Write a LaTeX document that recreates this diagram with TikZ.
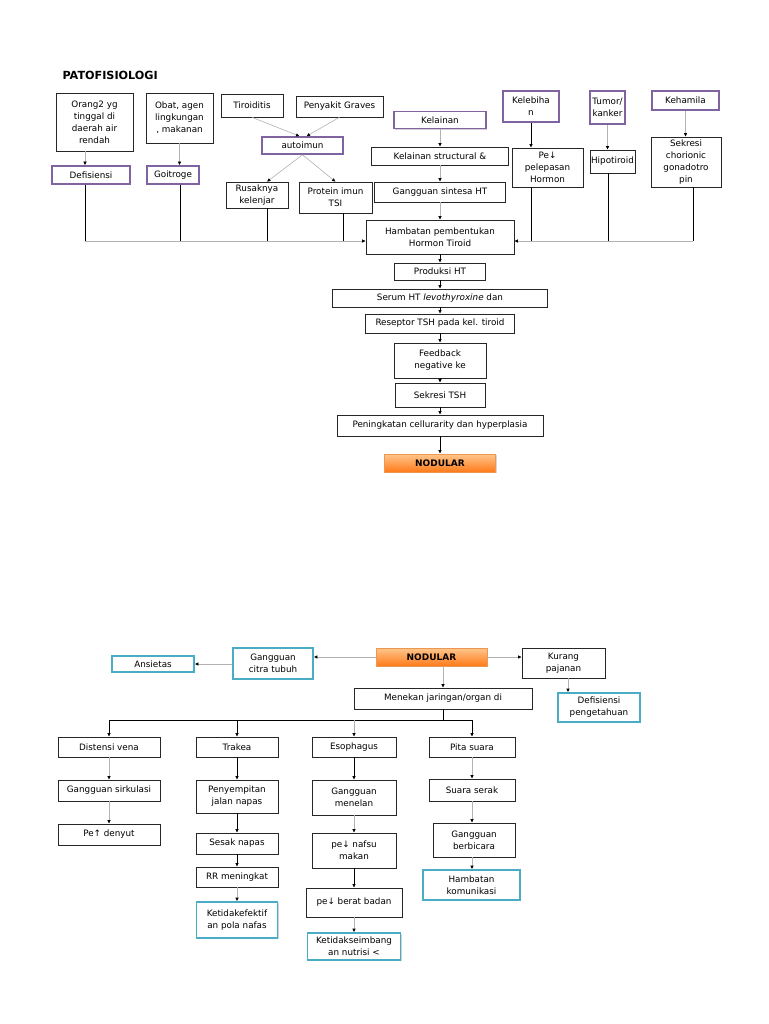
\documentclass[tikz,border=0pt]{standalone}
\usepackage{fontspec}
\setmainfont{DejaVu Sans}
\usetikzlibrary{arrows.meta,shadows}

\definecolor{ungu}{HTML}{8064A2}
\definecolor{tosca}{HTML}{4BACC6}
\definecolor{oranyetua}{HTML}{E46C0A}

\tikzset{
  kotak/.style={draw=black!85, line width=0.6pt, fill=white, align=center, inner sep=1pt},
  ungubox/.style={kotak, draw=ungu, line width=1.6pt, drop shadow={shadow xshift=1.2pt, shadow yshift=-1.2pt, fill=black!35}},
  toscabox/.style={kotak, draw=tosca, line width=1.6pt, drop shadow={shadow xshift=1.2pt, shadow yshift=-1.2pt, fill=black!35}},
  nodbox/.style={kotak, draw=oranyetua!70, top color=orange!45, bottom color=orange!85!red!90, font=\bfseries\fontsize{9}{10}\selectfont, drop shadow={shadow xshift=1pt, shadow yshift=-1pt, fill=black!30}},
  panah/.style={draw=black, line width=0.6pt, -{Latex[length=3.5pt,width=3.5pt]}},
  panahabu/.style={draw=black!30, line width=0.6pt, -{Latex[length=3.5pt,width=3.5pt,color=black]}},
  garis/.style={draw=black, line width=0.6pt},
  garisabu/.style={draw=black!25, line width=0.8pt}
}

\begin{document}
\begin{tikzpicture}[x=1pt, y=-1pt, font=\fontsize{8.8}{12}\selectfont]

\useasboundingbox (0,0) rectangle (768,1024);
\fill[white] (0,0) rectangle (768,1024);

%% ---------------- atas ----------------
\node[anchor=west, font=\bfseries\fontsize{11.2}{12}\selectfont] (judul) at (59,75) {PATOFISIOLOGI};

\node[kotak, minimum width=77pt, minimum height=58pt] (orang) at (94.5,122) {Orang2 yg\\tinggal di\\daerah air\\rendah};
\node[ungubox, minimum width=78pt, minimum height=18pt] (defisiensi) at (91,175) {Defisiensi};

\node[kotak, minimum width=67pt, minimum height=50pt] (obat) at (179.5,118) {Obat, agen\\lingkungan\\, makanan};
\node[ungubox, minimum width=52pt, minimum height=18pt] (goitroge) at (173,175) {Goitroge};

\node[kotak, minimum width=62pt, minimum height=23pt] (tiroiditis) at (252,105.5) {Tiroiditis};
\node[kotak, minimum width=87pt, minimum height=21pt] (graves) at (339.5,106.5) {Penyakit Graves};
\node[ungubox, minimum width=81pt, minimum height=17pt] (autoimun) at (302.5,145.5) {autoimun};
\node[kotak, minimum width=62pt, minimum height=26pt] (rusak) at (257,195) {Rusaknya\\kelenjar};
\node[kotak, minimum width=73pt, minimum height=31pt] (protein) at (335.5,197.5) {Protein imun\\TSI};

\node[ungubox, minimum width=92pt, minimum height=17pt] (kelainan) at (440,120) {Kelainan};
\node[kotak, minimum width=137pt, minimum height=18pt] (struktur) at (440,156) {Kelainan structural \&};
\node[kotak, minimum width=131pt, minimum height=20pt] (sintesa) at (440,192) {Gangguan sintesa HT};
\node[kotak, minimum width=148pt, minimum height=34pt] (hambatan) at (440,237) {Hambatan pembentukan\\Hormon Tiroid};

\node[ungubox, minimum width=56pt, minimum height=31pt] (kelebihan) at (531,106.5) {Kelebiha\\n};
\node[kotak, minimum width=71pt, minimum height=39pt] (pelepasan) at (547.5,167.5) {Pe↓\\pelepasan\\Hormon};
\node[ungubox, minimum width=35pt, minimum height=33pt] (tumor) at (607.5,107.5) {Tumor/\\kanker};
\node[kotak, minimum width=45pt, minimum height=23pt] (hipotiroid) at (612.5,161.5) {Hipotiroid};
\node[ungubox, minimum width=67pt, minimum height=19pt] (kehamilan) at (685.5,100.5) {Kehamila};
\node[kotak, minimum width=70pt, minimum height=50pt] (sekresi) at (686,162) {Sekresi\\chorionic\\gonadotro\\pin};

\node[kotak, minimum width=91pt, minimum height=17pt] (produksi) at (440,271.5) {Produksi HT};
\node[kotak, minimum width=215pt, minimum height=18pt] (serum) at (440,298) {Serum HT \textit{levothyroxine} dan};
\node[kotak, minimum width=149pt, minimum height=19pt] (reseptor) at (440,323.5) {Reseptor TSH pada kel. tiroid};
\node[kotak, minimum width=92pt, minimum height=35pt] (feedback) at (440,360.5) {Feedback\\negative ke};
\node[kotak, minimum width=90pt, minimum height=24pt] (tsh) at (440,395) {Sekresi TSH};
\node[kotak, minimum width=206pt, minimum height=21pt] (peningkatan) at (440,425.5) {Peningkatan cellurarity dan hyperplasia};
\node[nodbox, minimum width=111pt, minimum height=18pt] (nodular) at (440,463) {NODULAR};

% masuk ke hambatan
\draw[panahabu] (orang.south -| 85,0) -- (defisiensi.north -| 85,0);
\draw[panahabu] (obat.south) -- (obat.south |- goitroge.north);
\draw[garis] (defisiensi.south -| 85,0) -- (85,241);
\draw[garis] (goitroge.south -| 180,0) -- (180,241);
\draw[garis] (rusak.south -| 267,0) -- (267,241);
\draw[garis] (protein.south -| 343,0) -- (343,241);
\draw[panahabu] (85,241) -- (hambatan.west |- 0,241);

\draw[panahabu] (tiroiditis.south) -- ([xshift=-3pt]autoimun.north);
\draw[panahabu] (graves.south) -- ([xshift=4pt]autoimun.north);
\draw[panahabu] (autoimun.south) -- (rusak.north -| 267,0);
\draw[panahabu] (autoimun.south) -- (protein.north);

\draw[panahabu] (kelainan) -- (struktur);
\draw[panahabu] (struktur) -- (sintesa);
\draw[panahabu] (sintesa) -- (hambatan);

\draw[panah] (kelebihan.south) -- (kelebihan.south |- pelepasan.north);
\draw[panahabu] (tumor.south) -- (tumor.south |- hipotiroid.north);
\draw[panahabu] (kehamilan.south) -- (kehamilan.south |- sekresi.north);
\draw[garis] (kelebihan.south |- pelepasan.south) -- (kelebihan.south |- 0,241);
\draw[garis] (hipotiroid.south -| 608,0) -- (608,241);
\draw[garis] (sekresi.south -| 693,0) -- (693,241);
\draw[panahabu] (693,241) -- (hambatan.east |- 0,241);

% rantai tengah
\draw[panah] (hambatan) -- (produksi);
\draw[panah] (produksi) -- (serum);
\draw[panah] (serum) -- (reseptor);
\draw[panah] (reseptor) -- (feedback);
\draw[panah] (feedback) -- (tsh);
\draw[panah] (tsh) -- (peningkatan);
\draw[panah] (peningkatan) -- (nodular);

%% ---------------- bawah ----------------
\node[nodbox, minimum width=111pt, minimum height=18pt] (nodular2) at (431.5,657) {NODULAR};
\node[kotak, minimum width=83pt, minimum height=30pt] (kurang) at (563.5,663) {Kurang\\pajanan};
\node[toscabox, minimum width=82pt, minimum height=29pt] (defpeng) at (599,707.5) {Defisiensi\\pengetahuan};
\node[toscabox, minimum width=80pt, minimum height=31pt] (citra) at (273,663.5) {Gangguan\\citra tubuh};
\node[toscabox, minimum width=82pt, minimum height=16pt] (ansietas) at (153,664) {Ansietas};
\node[kotak, minimum width=178pt, minimum height=21pt] (menekan) at (443,698.5) {Menekan jaringan/organ di};
\coordinate (cabang) at (443,720);

\node[kotak, minimum width=102pt, minimum height=20pt] (distensi) at (109,747) {Distensi vena};
\node[kotak, minimum width=102pt, minimum height=21pt] (sirkulasi) at (109,790.5) {Gangguan sirkulasi};
\node[kotak, minimum width=102pt, minimum height=21pt] (denyut) at (109,834.5) {Pe↑ denyut};

\node[kotak, minimum width=82pt, minimum height=20pt] (trakea) at (237,747) {Trakea};
\node[kotak, minimum width=82pt, minimum height=33pt] (penyempitan) at (237,796.5) {Penyempitan\\jalan napas};
\node[kotak, minimum width=82pt, minimum height=21pt] (sesak) at (237,843.5) {Sesak napas};
\node[kotak, minimum width=82pt, minimum height=20pt] (rr) at (237,877) {RR meningkat};
\node[toscabox, minimum width=81pt, minimum height=36pt] (polanafas) at (237,920) {Ketidakefektif\\an pola nafas};

\node[kotak, minimum width=84pt, minimum height=20pt] (esophagus) at (354,747) {Esophagus};
\node[kotak, minimum width=84pt, minimum height=35pt] (menelan) at (354,797.5) {Gangguan\\menelan};
\node[kotak, minimum width=84pt, minimum height=35pt] (nafsu) at (354,850.5) {pe↓ nafsu\\makan};
\node[kotak, minimum width=96pt, minimum height=29pt] (berat) at (354,902.5) {pe↓ berat badan};
\node[toscabox, minimum width=93pt, minimum height=27pt] (nutrisi) at (354,946.5) {Ketidakseimbang\\an nutrisi <};

\node[kotak, minimum width=86pt, minimum height=20pt] (pita) at (472,747) {Pita suara};
\node[kotak, minimum width=86pt, minimum height=22pt] (serak) at (472,790) {Suara serak};
\node[kotak, minimum width=82pt, minimum height=34pt] (berbicara) at (474,840) {Gangguan\\berbicara};
\node[toscabox, minimum width=97pt, minimum height=30pt] (komunikasi) at (471.5,885) {Hambatan\\komunikasi};

\draw[panahabu] (nodular2.east) -- (kurang.west |- nodular2.east);
\draw[panahabu] (nodular2.west) -- (citra.east |- nodular2.west);
\draw[panahabu] (citra.west |- ansietas.east) -- (ansietas.east);
\draw[panahabu] (kurang.south -| 568,0) -- (defpeng.north -| 568,0);
\draw[panahabu] (nodular2.south -| menekan.north) -- (menekan.north);

\draw[garis] (menekan.south) -- (cabang);
\draw[garis] (cabang -| distensi) -- (cabang -| pita);
\foreach \n in {distensi,trakea,pita}
  \draw[panah] (cabang -| \n.north) -- (\n.north);
\draw[panahabu] (cabang -| esophagus.north) -- (esophagus.north);

\draw[panahabu] (distensi) -- (sirkulasi);
\draw[panahabu] (sirkulasi) -- (denyut);
\draw[panah] (trakea) -- (penyempitan);
\draw[panah] (penyempitan) -- (sesak);
\draw[panah] (sesak) -- (rr);
\draw[panahabu] (rr) -- (polanafas);
\draw[panah] (esophagus) -- (menelan);
\draw[panahabu] (menelan) -- (nafsu);
\draw[panah] (nafsu) -- (berat);
\draw[panahabu] (berat) -- (nutrisi);
\draw[panahabu] (pita) -- (serak);
\draw[panahabu] (serak.south) -- (serak.south |- berbicara.north);
\draw[panahabu] (berbicara.south -| 472,0) -- (komunikasi.north -| 472,0);

\end{tikzpicture}
\end{document}
